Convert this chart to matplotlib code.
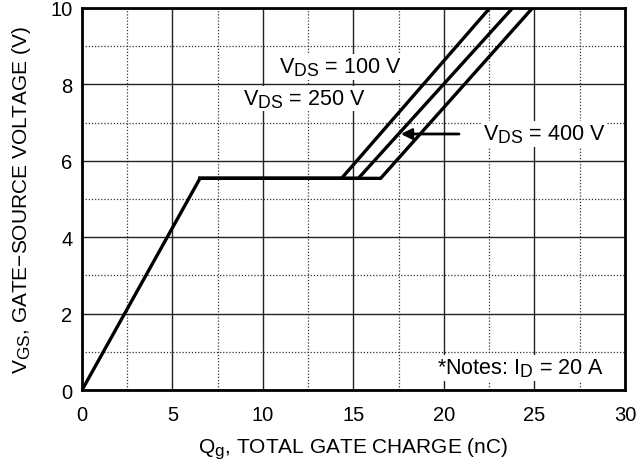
import numpy as np
import matplotlib
matplotlib.use("Agg")
import matplotlib.pyplot as plt
import matplotlib._mathtext as mt

# datasheet-style subscripts are a bit larger than mathtext default
mt.SHRINK_FACTOR = 0.82

plt.rcParams['font.family'] = ['Liberation Sans', 'DejaVu Sans']
plt.rcParams['mathtext.fontset'] = 'custom'
plt.rcParams['mathtext.rm'] = 'Liberation Sans'
plt.rcParams['mathtext.it'] = 'Liberation Sans:italic'

# gate charge curves
q_ramp = [0.0, 6.52]
v_ramp = [0.0, 5.54]

q_100 = [6.52, 14.34, 22.54]
q_250 = [6.52, 15.27, 23.80]
q_400 = [6.52, 16.50, 24.90]
v_rise = [5.54, 5.54, 10.0]

fs = 15.5

fig = plt.figure(figsize=(6.43, 4.64), dpi=100)
ax = fig.add_axes([0.1275, 0.157, 0.8445, 0.824])

ax.set_xlim(0, 30)
ax.set_ylim(0, 10)
ax.set_xticks(np.arange(0, 31, 5))
ax.set_yticks(np.arange(0, 11, 2))
ax.set_xticks(np.arange(2.5, 30, 5), minor=True)
ax.set_yticks(np.arange(1, 10, 2), minor=True)
ax.grid(True, which='major', color='#222222', lw=1.0, ls='-')
ax.grid(True, which='minor', color='#333333', lw=0.9, ls=(0, (1, 1.5)))
ax.tick_params(which='both', length=0, labelsize=fs - 1)
ax.tick_params(axis='x', pad=11)
ax.tick_params(axis='y', pad=7)
for s in ax.spines.values():
    s.set_linewidth(2)
    s.set_zorder(5)

lw = 2.4
ax.plot(q_ramp, v_ramp, color='black', lw=lw, solid_capstyle='butt', zorder=4)
for q in (q_100, q_250, q_400):
    ax.plot(q, v_rise, color='black', lw=lw, solid_joinstyle='miter', zorder=4)

box = dict(facecolor='white', edgecolor='none', pad=1)
ax.text(10.9, 8.45, r'V$_{\mathrm{DS}}$ = 100 V', fontsize=fs, va='center', ha='left', bbox=box, zorder=3)
ax.text(8.9, 7.62, r'V$_{\mathrm{DS}}$ = 250 V', fontsize=fs, va='center', ha='left', bbox=box, zorder=3)
ax.text(22.15, 6.7, r'V$_{\mathrm{DS}}$ = 400 V', fontsize=fs, va='center', ha='left', bbox=box, zorder=3)
ax.annotate('', xy=(17.46, 6.7), xytext=(20.98, 6.7),
            arrowprops=dict(arrowstyle='-|>', color='black', lw=2, mutation_scale=16), zorder=4)
ax.text(19.6, 0.58, r'*Notes: I$_{\mathrm{D}}$ = 20 A', fontsize=fs, va='center', ha='left', bbox=box, zorder=3)

ax.set_xlabel(r'Q$_{\mathrm{g}}$, TOTAL GATE CHARGE (nC)', fontsize=fs - 0.5, labelpad=8)
ax.set_ylabel(r'V$_{\mathrm{GS}}$, GATE$-$SOURCE VOLTAGE (V)', fontsize=fs - 0.5, labelpad=12)

fig.savefig('out.png', dpi=100)
